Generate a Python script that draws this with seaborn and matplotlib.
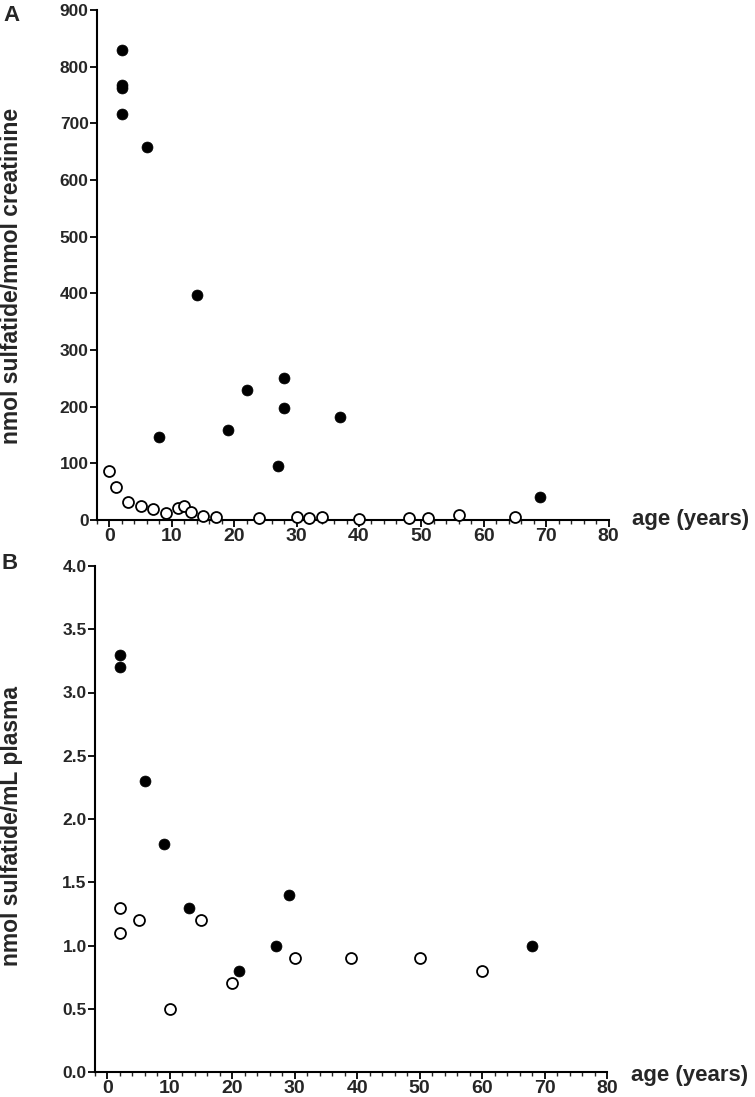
import numpy as np
import pandas as pd
import matplotlib
matplotlib.use('Agg')
import matplotlib.pyplot as plt
from matplotlib.ticker import MultipleLocator
import seaborn as sns

sns.set_style('ticks')
plt.rcParams['font.family'] = ['Liberation Sans', 'DejaVu Sans']
plt.rcParams['font.weight'] = 'bold'

# panel A: urine sulfatide
a_filled_age = [2, 2, 2, 2, 6, 14, 8, 19, 22, 28, 28, 27, 37, 69]
a_filled_val = [829, 767, 762, 716, 658, 397, 147, 159, 230, 250, 198, 95, 181, 40]
a_open_age = [0, 1, 3, 5, 7, 9, 11, 12, 13, 15, 17, 24, 30, 32, 34, 40, 48, 51, 56, 65]
a_open_val = [86, 58, 31, 24, 19, 13, 22, 24, 14, 7, 6, 3, 5, 4, 5, 2, 4, 4, 8, 6]

# panel B: plasma sulfatide
b_filled_age = [2, 2, 6, 9, 13, 21, 27, 29, 68]
b_filled_val = [3.3, 3.2, 2.3, 1.8, 1.3, 0.8, 1.0, 1.4, 1.0]
b_open_age = [2, 2, 5, 10, 15, 20, 30, 39, 50, 60]
b_open_val = [1.3, 1.1, 1.2, 0.5, 1.2, 0.7, 0.9, 0.9, 0.9, 0.8]

fig = plt.figure(figsize=(7.55, 10.97), dpi=100)
W, H = 755, 1097
axA = fig.add_axes([97 / W, 1 - 520 / H, (608.5 - 97) / W, (520 - 10) / H])
axB = fig.add_axes([95 / W, 1 - 1072 / H, (607 - 95) / W, (1072 - 566) / H])


def draw(ax, fa, fv, oa, ov, ymax, ystep, ylabel, letter, lab_x, lab_y,
         let_x, let_y, age_dy):
    dfa = pd.DataFrame({'age': fa, 'val': fv})
    dfo = pd.DataFrame({'age': oa, 'val': ov})
    sns.scatterplot(data=dfo, x='age', y='val', ax=ax, s=62, marker='o',
                    facecolor='white', edgecolor='black', linewidth=1.3,
                    clip_on=False, zorder=3)
    sns.scatterplot(data=dfa, x='age', y='val', ax=ax, s=62, marker='o',
                    color='black', edgecolor='black', linewidth=0.5,
                    clip_on=False, zorder=4)
    ax.set_xlim(-2, 80)
    ax.set_ylim(0, ymax)
    ax.xaxis.set_major_locator(MultipleLocator(10))
    ax.xaxis.set_minor_locator(MultipleLocator(2))
    ax.yaxis.set_major_locator(MultipleLocator(ystep))
    ax.tick_params(axis='both', which='major', length=5, width=1.3,
                   color='black')
    ax.tick_params(axis='y', which='major', labelsize=12.5, pad=1)
    ax.tick_params(axis='x', which='major', labelsize=14, pad=1)
    ax.tick_params(axis='x', which='minor', length=3, width=1.0)
    for lab in ax.get_xticklabels() + ax.get_yticklabels():
        lab.set_fontweight('bold')
    if ystep < 1:
        ax.yaxis.set_major_formatter(plt.FormatStrFormatter('%.1f'))
    sns.despine(ax=ax)
    for sp in ['left', 'bottom']:
        ax.spines[sp].set_linewidth(1.5)
        ax.spines[sp].set_color('black')
    ax.set_xlabel('')
    ax.set_ylabel(ylabel, fontsize=16.5, fontweight='bold')
    ax.yaxis.set_label_coords(lab_x, lab_y)
    ax.text(1.046, age_dy, 'age (years)', transform=ax.transAxes, fontsize=16,
            fontweight='bold', ha='left', va='center')
    ax.text(let_x, let_y, letter, transform=ax.transAxes, fontsize=16,
            fontweight='bold', ha='center', va='center')


draw(axA, a_filled_age, a_filled_val, a_open_age, a_open_val, 900, 100,
     'nmol sulfatide/mmol creatinine', 'A', -0.145, 0.478, -0.168, 0.99, 0.0)
draw(axB, b_filled_age, b_filled_val, b_open_age, b_open_val, 4.0, 0.5,
     'nmol sulfatide/mL plasma', 'B', -0.141, 0.486, -0.166, 1.005, -0.006)

fig.savefig('out.png', dpi=100)
